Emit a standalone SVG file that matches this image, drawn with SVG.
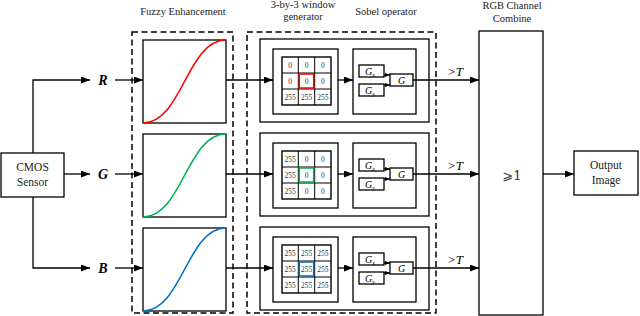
<svg xmlns="http://www.w3.org/2000/svg" width="640" height="316" viewBox="0 0 640 316">
<style>
.box{fill:#fff;stroke:#000;stroke-width:1.3}
.dash{fill:none;stroke:#000;stroke-width:1.5;stroke-dasharray:6,3.5}
.ln{fill:none;stroke:#000;stroke-width:1.3}
.ttl{font-family:"Liberation Serif","Times New Roman",serif;font-size:10.5px;text-anchor:middle;fill:#222}
.lbl{font-family:"Liberation Serif","Times New Roman",serif;font-size:11.5px;text-anchor:middle;fill:#222}
.ch{font-family:"Liberation Serif","Times New Roman",serif;font-size:14px;font-weight:bold;font-style:italic;text-anchor:middle}
.gt{font-family:"Liberation Serif","Times New Roman",serif;font-size:13px;font-style:italic;text-anchor:middle}
.num{font-family:"Liberation Serif","Times New Roman",serif;font-size:7.5px;text-anchor:middle;fill:#333}
.gx{font-family:"Liberation Serif","Times New Roman",serif;font-size:10px;font-style:italic;text-anchor:middle}
.grid{fill:#fff;stroke:#000;stroke-width:1.4}
.cell{fill:none;stroke:#000;stroke-width:1}
.cv{fill:none;stroke-width:1.6}
</style>
<defs>
<marker id="ah" markerWidth="9" markerHeight="7" refX="9" refY="3.5" orient="auto" markerUnits="userSpaceOnUse"><path d="M0,0 L9,3.5 L0,7 z" fill="#000"/></marker>
<marker id="sa" markerWidth="5" markerHeight="4" refX="5" refY="2" orient="auto" markerUnits="userSpaceOnUse"><path d="M0,0 L5,2 L0,4 z" fill="#000"/></marker>
<g id="sobelT">
<rect class="box" x="353" y="0" width="63" height="65"/>
<rect class="box" x="359" y="16" width="25" height="12"/>
<text class="gx" x="370" y="25.5">G<tspan font-size="6" dy="2">x</tspan></text>
<rect class="box" x="359" y="35" width="25" height="12"/>
<text class="gx" x="370" y="44.5">G<tspan font-size="6" dy="2">y</tspan></text>
<rect class="box" x="390" y="25" width="23" height="12"/>
<text class="gx" x="401.5" y="34.5">G</text>
<line class="ln" x1="384" y1="26" x2="390" y2="26" marker-end="url(#sa)"/>
<line class="ln" x1="384" y1="36" x2="390" y2="36" marker-end="url(#sa)"/>
</g>
</defs>

<!-- titles -->
<text class="ttl" x="183" y="15">Fuzzy Enhancement</text>
<text class="ttl" x="303" y="8">3-by-3 window</text>
<text class="ttl" x="303" y="20">generator</text>
<text class="ttl" x="386" y="15">Sobel operator</text>
<text class="ttl" x="512" y="9">RGB Channel</text>
<text class="ttl" x="512" y="22">Combine</text>

<!-- dashed groups -->
<rect class="dash" x="132" y="32" width="101" height="281"/>
<rect class="dash" x="247" y="32" width="189" height="281"/>

<g id="cmos">
<rect class="box" x="1" y="153" width="63" height="44"/>
<text class="lbl" x="32.5" y="171">CMOS</text>
<text class="lbl" x="32.5" y="186">Sensor</text>
</g>

<g id="labels">
<text class="ch" x="103" y="85">R</text>
<text class="ch" x="103" y="179">G</text>
<text class="ch" x="103" y="273">B</text>
<text class="gt" x="455" y="76">&gt;T</text>
<text class="gt" x="455" y="170">&gt;T</text>
<text class="gt" x="455" y="264">&gt;T</text>
</g>

<g id="fuzzyR">
<rect class="box" x="143" y="40" width="83" height="83"/>
<path class="cv" stroke="#ff0000" d="M143,123 C182,123 187,40 226,40"/>
</g>
<g id="fuzzyG">
<rect class="box" x="143" y="134" width="83" height="83"/>
<path class="cv" stroke="#00b050" d="M143,217 C182,217 187,134 226,134"/>
</g>
<g id="fuzzyB">
<rect class="box" x="143" y="228" width="83" height="83"/>
<path class="cv" stroke="#0070c0" d="M143,311 C182,311 187,228 226,228"/>
</g>

<g id="chanR">
<rect class="box" x="260" y="39" width="169" height="83"/>
<rect class="box" x="273" y="49" width="65" height="65"/>
<rect class="grid" x="282" y="57" width="49" height="48"/>
<path class="cell" d="M298.3,57V105M314.7,57V105M282,73H331M282,89H331"/>
<rect x="299.3" y="74" width="14.4" height="14" fill="none" stroke="#ff0000" stroke-width="1.5"/>
<g class="num">
<text x="290.2" y="67.5">0</text><text x="306.5" y="67.5">0</text><text x="322.8" y="67.5">0</text>
<text x="290.2" y="83.5">0</text><text x="306.5" y="83.5">0</text><text x="322.8" y="83.5">0</text>
<text x="290.2" y="99.5">255</text><text x="306.5" y="99.5">255</text><text x="322.8" y="99.5">255</text>
</g>
<use href="#sobelT" y="49"/>
</g>

<g id="chanG">
<rect class="box" x="260" y="133" width="169" height="83"/>
<rect class="box" x="273" y="143" width="65" height="65"/>
<rect class="grid" x="282" y="151" width="49" height="48"/>
<path class="cell" d="M298.3,151V199M314.7,151V199M282,167H331M282,183H331"/>
<rect x="299.3" y="168" width="14.4" height="14" fill="none" stroke="#00b050" stroke-width="1.5"/>
<g class="num">
<text x="290.2" y="161.5">255</text><text x="306.5" y="161.5">0</text><text x="322.8" y="161.5">0</text>
<text x="290.2" y="177.5">255</text><text x="306.5" y="177.5">0</text><text x="322.8" y="177.5">0</text>
<text x="290.2" y="193.5">255</text><text x="306.5" y="193.5">0</text><text x="322.8" y="193.5">0</text>
</g>
<use href="#sobelT" y="143"/>
</g>

<g id="chanB">
<rect class="box" x="260" y="227" width="169" height="83"/>
<rect class="box" x="273" y="237" width="65" height="65"/>
<rect class="grid" x="282" y="245" width="49" height="48"/>
<path class="cell" d="M298.3,245V293M314.7,245V293M282,261H331M282,277H331"/>
<rect x="299.3" y="262" width="14.4" height="14" fill="none" stroke="#0070c0" stroke-width="1.5"/>
<g class="num">
<text x="290.2" y="255.5">255</text><text x="306.5" y="255.5">255</text><text x="322.8" y="255.5">255</text>
<text x="290.2" y="271.5">255</text><text x="306.5" y="271.5">255</text><text x="322.8" y="271.5">255</text>
<text x="290.2" y="287.5">255</text><text x="306.5" y="287.5">255</text><text x="322.8" y="287.5">255</text>
</g>
<use href="#sobelT" y="237"/>
</g>

<g id="combine">
<rect class="box" x="479" y="31" width="64" height="284"/>
<text x="512" y="180" font-family="'DejaVu Serif','DejaVu Sans',serif" font-size="13px" text-anchor="middle" fill="#333">⩾1</text>
</g>

<g id="output">
<rect class="box" x="574" y="151" width="64" height="44"/>
<text class="lbl" x="606" y="169">Output</text>
<text class="lbl" x="606" y="184">Image</text>
</g>

<g id="connectors">
<path class="ln" d="M33,153V80H90" marker-end="url(#ah)"/>
<path class="ln" d="M64,174H90" marker-end="url(#ah)"/>
<path class="ln" d="M33,197V268H90" marker-end="url(#ah)"/>
<path class="ln" d="M115,80H143" marker-end="url(#ah)"/>
<path class="ln" d="M115,174H143" marker-end="url(#ah)"/>
<path class="ln" d="M115,268H143" marker-end="url(#ah)"/>
<path class="ln" d="M226,80H273" marker-end="url(#ah)"/>
<path class="ln" d="M226,174H273" marker-end="url(#ah)"/>
<path class="ln" d="M226,268H273" marker-end="url(#ah)"/>
<path class="ln" d="M338,80H353" marker-end="url(#ah)"/>
<path class="ln" d="M338,174H353" marker-end="url(#ah)"/>
<path class="ln" d="M338,268H353" marker-end="url(#ah)"/>
<path class="ln" d="M413,80H479" marker-end="url(#ah)"/>
<path class="ln" d="M413,174H479" marker-end="url(#ah)"/>
<path class="ln" d="M413,268H479" marker-end="url(#ah)"/>
<path class="ln" d="M543,174H574" marker-end="url(#ah)"/>
</g>
</svg>
